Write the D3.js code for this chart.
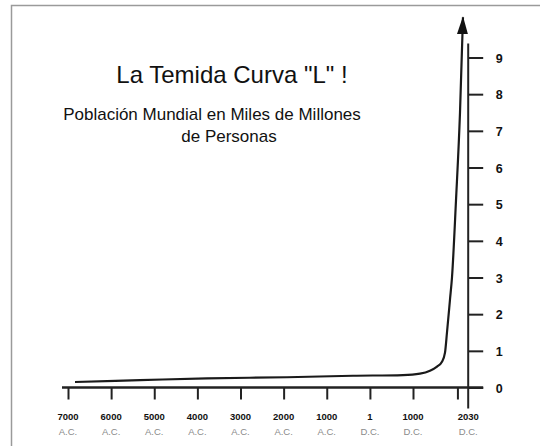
<!DOCTYPE html>
<html><head><meta charset="utf-8">
<script src="https://cdn.jsdelivr.net/npm/d3@7"></script>
<style>body{margin:0;background:#fff}svg{display:block}</style>
</head><body><svg id="c" width="540" height="446"></svg>
<script>
// Data (years: negative = A.C., population in thousands of millions)
const years = [-6838, -5330, -3777, -1922, -391, 768, 1162, 1394, 1557, 1672, 1742, 1788, 1858, 1904, 1997, 2090, 2159];
const population = [0.15, 0.20, 0.25, 0.28, 0.32, 0.34, 0.38, 0.46, 0.57, 0.70, 0.95, 1.5, 2.4, 3.0, 5.1, 7.5, 10.1];
const xTickYears = [-7000, -6000, -5000, -4000, -3000, -2000, -1000, 1, 1000, 2030];
const xTickNumbers = ["7000", "6000", "5000", "4000", "3000", "2000", "1000", "1", "1000", "2030"];
const xTickEras = ["A.C.", "A.C.", "A.C.", "A.C.", "A.C.", "A.C.", "A.C.", "D.C.", "D.C.", "D.C."];
const yTicks = [0, 1, 2, 3, 4, 5, 6, 7, 8, 9];
const title = 'La Temida Curva "L" !';
const subtitle = ["Población Mundial en Miles de Millones", "de Personas"];

const svg = d3.select("#c");
const x = d3.scaleLinear().domain([-7000, 2280]).range([68, 468.2]);
const y = d3.scaleLinear().domain([0, 9]).range([387.5, 57.5]);
const axisX = x.range()[1];

// frame
svg.append("rect").attr("x", 11.5).attr("y", 5.5).attr("width", 600).attr("height", 500)
  .attr("fill", "#fff").attr("stroke", "#9a9a9a").attr("stroke-width", 1.5);

// titles
svg.append("text").attr("x", 232).attr("y", 83).attr("text-anchor", "middle")
  .style("font-family", "Liberation Sans, Arial, sans-serif").style("font-size", "24px").attr("fill", "#111").text(title);
svg.append("text").attr("x", 212).attr("y", 120).attr("text-anchor", "middle")
  .style("font-family", "Liberation Sans, Arial, sans-serif").style("font-size", "17px").attr("fill", "#111").text(subtitle[0]);
svg.append("text").attr("x", 229).attr("y", 142).attr("text-anchor", "middle")
  .style("font-family", "Liberation Sans, Arial, sans-serif").style("font-size", "17px").attr("fill", "#111").text(subtitle[1]);

// x axis
const gx = svg.append("g").attr("transform", `translate(0,${y(0)})`)
  .call(d3.axisBottom(x).tickValues(xTickYears).tickSize(12).tickFormat(""));
gx.select(".domain").remove();
gx.selectAll(".tick line").attr("stroke", "#222").attr("stroke-width", 2);
svg.append("line").attr("x1", x.range()[0] - 6).attr("x2", axisX + 15)
  .attr("y1", y(0)).attr("y2", y(0)).attr("stroke", "#222").attr("stroke-width", 2.5);

const lab = svg.append("g").selectAll("g").data(xTickYears).join("g")
  .attr("transform", (d, i) => `translate(${i === xTickYears.length - 1 ? axisX : x(d)},0)`);
lab.append("text").attr("y", 420).attr("text-anchor", "middle")
  .style("font-family", "Liberation Sans Narrow, Liberation Sans, Arial, sans-serif").style("font-size", "9.5px")
  .style("font-weight", "bold").attr("fill", "#111").text((d, i) => xTickNumbers[i]);
lab.append("text").attr("y", 435).attr("text-anchor", "middle")
  .style("font-family", "Liberation Sans, Arial, sans-serif").style("font-size", "9.5px")
  .attr("fill", "#8a8a8a").text((d, i) => xTickEras[i]);

// y axis
const gy = svg.append("g").attr("transform", `translate(${axisX},0)`)
  .call(d3.axisRight(y).tickValues(yTicks).tickSize(15).tickFormat(""));
gy.select(".domain").remove();
gy.selectAll(".tick line").attr("stroke", "#222").attr("stroke-width", 2);
gy.selectAll(".tick").append("text").attr("x", 31).attr("dy", "0.36em").attr("text-anchor", "middle")
  .style("font-family", "Liberation Sans, Arial, sans-serif").style("font-size", "12.5px").style("font-weight", "bold")
  .attr("fill", "#111").text(d => d);
svg.append("line").attr("x1", axisX).attr("x2", axisX).attr("y1", y(9) - 14).attr("y2", y(0) + 21)
  .attr("stroke", "#222").attr("stroke-width", 2);

// arrow marker
svg.append("defs").append("marker").attr("id", "arr").attr("markerUnits", "userSpaceOnUse")
  .attr("viewBox", "0 -5.5 18 11").attr("markerWidth", 18).attr("markerHeight", 11)
  .attr("refX", 17).attr("refY", 0).attr("orient", "auto")
  .append("path").attr("d", "M0,-5.5L18,0L0,5.5Z").attr("fill", "#111");

// curve
const pts = years.map((yr, i) => [yr, population[i]]);
svg.append("path").datum(pts)
  .attr("d", d3.line().x(d => x(d[0])).y(d => y(d[1])).curve(d3.curveMonotoneX))
  .attr("fill", "none").attr("stroke", "#1a1a1a").attr("stroke-width", 2.2)
  .attr("marker-end", "url(#arr)");
</script></body></html>
